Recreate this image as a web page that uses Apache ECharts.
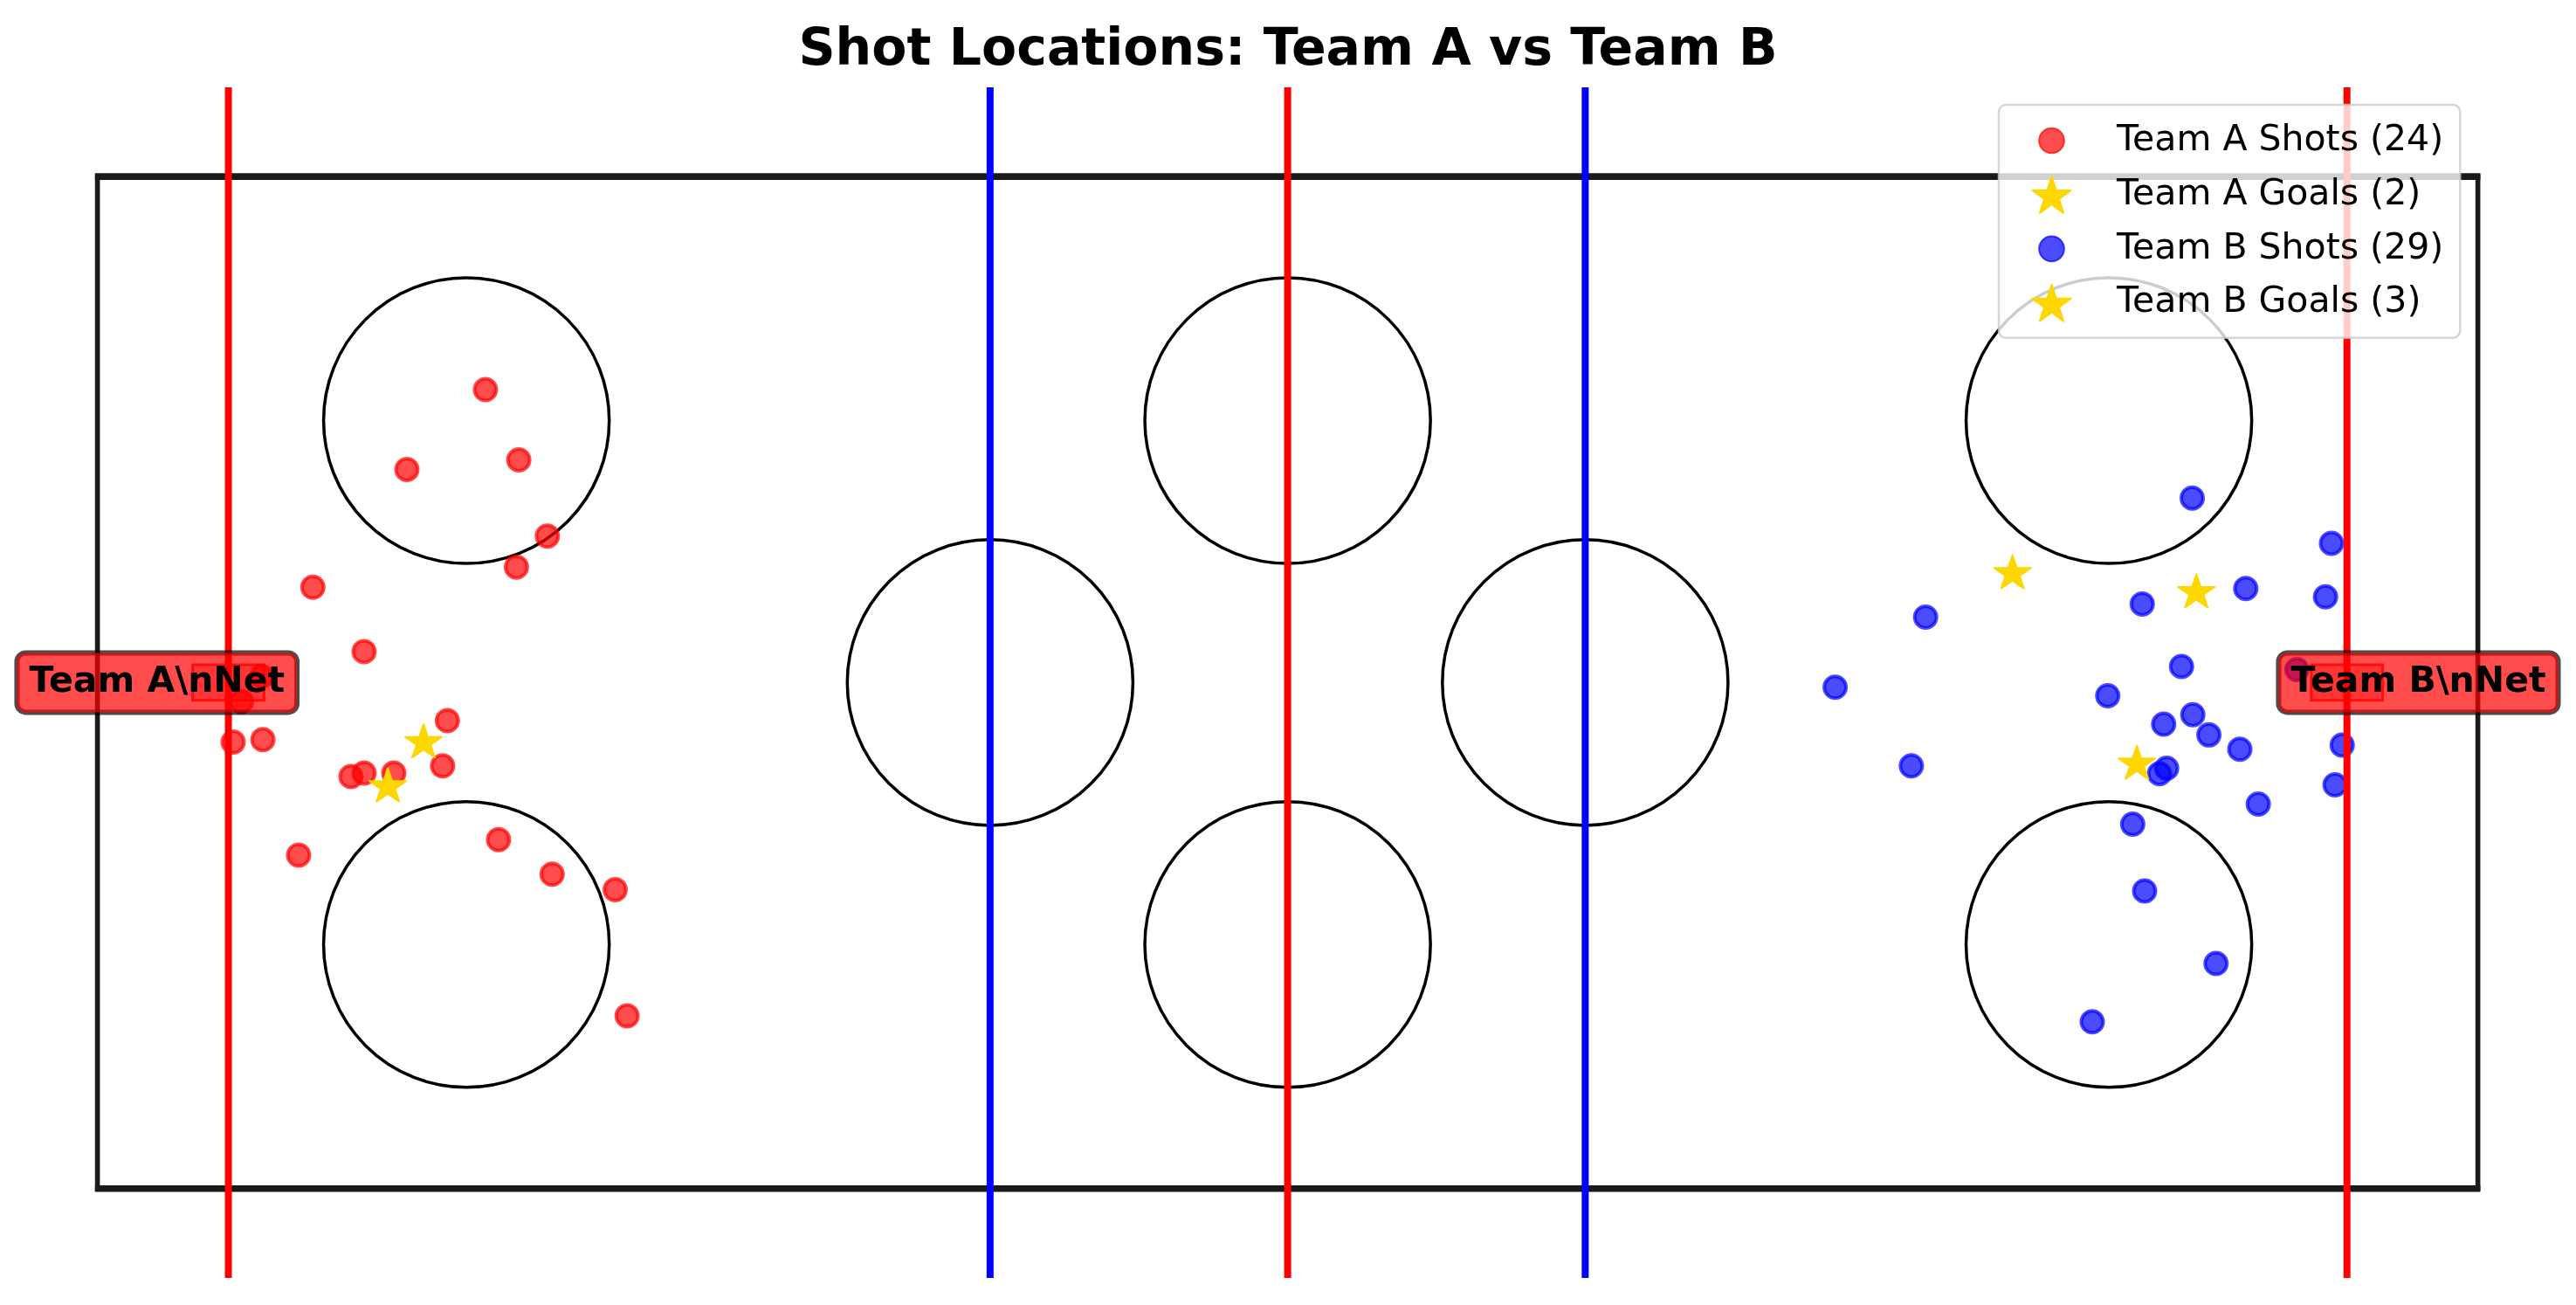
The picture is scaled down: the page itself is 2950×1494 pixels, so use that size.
<!DOCTYPE html>
<html><head><meta charset="utf-8">
<script src="https://cdn.jsdelivr.net/npm/echarts@6/dist/echarts.min.js"></script>
<style>html,body{margin:0;padding:0;background:#fff}#c{width:2950px;height:1494px}</style>
</head><body><div id="c"></div>
<script>
// ---- data (rink units: 200 x 85) ----
const teamAShots = [[32.6,67.1],[26.0,60.4],[35.4,61.2],[37.8,54.8],[35.2,52.2],[18.1,50.5],[22.4,45.1],[13.8,43.0],[12.1,40.9],[11.4,37.5],[13.9,37.7],[29.4,39.3],[29.0,35.5],[21.3,34.6],[22.4,34.9],[24.9,34.9],[16.9,28.0],[33.7,29.3],[38.2,26.4],[43.5,25.1],[44.5,14.5]];
const teamAGoals = [[27.4,37.6],[24.4,33.9]];
const teamBShots = [[176.0,58.0],[187.7,54.2],[180.5,50.4],[187.2,49.7],[171.8,49.1],[153.6,48.0],[146.0,42.1],[175.1,43.85],[184.8,43.6],[168.9,41.4],[176.05,39.8],[173.6,39.0],[177.4,38.1],[180.0,36.9],[188.6,37.25],[173.85,35.3],[173.25,34.85],[152.4,35.5],[188.0,33.9],[181.55,32.3],[171.0,30.6],[172.0,25.0],[178.0,18.9],[167.6,14.0]];
const teamBGoals = [[160.9,51.8],[176.35,50.2],[171.35,35.8]];
const rink = [[0, 0, 200, 85]];
const redLines = [11, 100, 189];
const blueLines = [75, 125];
const circleCenters = [[31,64.5],[31,20.5],[100,64.5],[100,20.5],[169,64.5],[169,20.5],[75,42.5],[125,42.5]];
const circleRadius = 12;
const netRects = [[8,41,14,44],[186,41,192,44]];
const netLabelPos = [[5,42.5],[195,42.5]];
const netLabelTexts = ['Team A\\nNet','Team B\\nNet'];
const legendNames = ['Team A Shots (24)','Team A Goals (2)','Team B Shots (29)','Team B Goals (3)'];
const titleText = 'Shot Locations: Team A vs Team B';
const xRange = [-8, 208];
const yRange = [-7.5, 92.5];

const FONT = "'DejaVu Sans', sans-serif";
const STAR = 'path://M100,0 L122.45,69.1 L195.11,69.1 L136.33,111.8 L158.78,180.9 L100,138.2 L41.22,180.9 L63.67,111.8 L4.89,69.1 L77.55,69.1 Z';
const LEGEND_CIRCLE = 'path://M0,0 M44,42 M36.35,21 A14.35,14.35,0,1,1,7.65,21 A14.35,14.35,0,1,1,36.35,21 Z';

const chart = echarts.init(document.getElementById('c'));

function vLineSeries(xs, color) {
  return {
    type: 'custom', z: 5, silent: true,
    data: xs.map(x => [x]),
    renderItem: (params, api) => {
      const a = api.coord([api.value(0), yRange[0]]);
      const b = api.coord([api.value(0), yRange[1]]);
      return {type: 'line', shape: {x1: a[0], y1: a[1], x2: b[0], y2: b[1]},
              style: {stroke: color, lineWidth: 8}};
    }
  };
}

const shotStyle = c => ({color: c, borderColor: c, borderWidth: 4, opacity: 1});
const starStyle = {color: '#FFD700', borderColor: '#FFD700', borderWidth: 2, borderJoin: 'round', opacity: 1};

chart.setOption({
  animation: false,
  backgroundColor: '#ffffff',
  title: {
    text: titleText, left: 'center', top: 25,
    textStyle: {fontFamily: FONT, fontSize: 58.5, fontWeight: 'bold', color: '#000', lineHeight: 58}
  },
  grid: {left: 2.56, top: 99.9, width: 2944.1, height: 1363},
  xAxis: {type: 'value', min: xRange[0], max: xRange[1], show: false},
  yAxis: {type: 'value', min: yRange[0], max: yRange[1], show: false},
  legend: {
    orient: 'vertical', left: 2289, top: 120, z: 20,
    itemWidth: 44, itemHeight: 42, itemGap: 18,
    padding: [19, 19, 18, 37.5],
    backgroundColor: 'rgba(255,255,255,0.8)', borderColor: 'rgba(204,204,204,0.8)',
    borderWidth: 2.5, borderRadius: 8, selectedMode: false,
    textStyle: {fontFamily: FONT, fontSize: 41, color: '#000', lineHeight: 42, padding: [0, 0, 0, 47.5]},
    data: [
      {name: legendNames[0], icon: LEGEND_CIRCLE},
      {name: legendNames[1], icon: STAR},
      {name: legendNames[2], icon: LEGEND_CIRCLE},
      {name: legendNames[3], icon: STAR}
    ]
  },
  series: [
    {
      type: 'custom', z: 1, silent: true, data: rink,
      renderItem: (params, api) => {
        const p0 = api.coord([api.value(0), api.value(3)]);
        const p1 = api.coord([api.value(2), api.value(1)]);
        return {type: 'group', children: [
          {type: 'rect', shape: {x: p0[0], y: p0[1], width: p1[0] - p0[0], height: p1[1] - p0[1]},
           style: {fill: 'none', stroke: '#1a1a1a', lineWidth: 5.6}},
          {type: 'line', shape: {x1: p0[0] - 2.8, y1: p0[1], x2: p1[0] + 2.8, y2: p0[1]},
           style: {stroke: '#1a1a1a', lineWidth: 7.6}},
          {type: 'line', shape: {x1: p0[0] - 2.8, y1: p1[1], x2: p1[0] + 2.8, y2: p1[1]},
           style: {stroke: '#1a1a1a', lineWidth: 7.6}}
        ]};
      }
    },
    {
      type: 'custom', z: 1, silent: true, data: circleCenters,
      renderItem: (params, api) => {
        const c = api.coord([api.value(0), api.value(1)]);
        const r = api.size([circleRadius, 0])[0];
        return {type: 'circle', shape: {cx: c[0], cy: c[1], r: r},
                style: {fill: 'none', stroke: '#000', lineWidth: 3.5}};
      }
    },
    {name: legendNames[0], type: 'scatter', z: 3, data: teamAShots, symbol: 'circle', symbolSize: 25,
     itemStyle: shotStyle('rgba(255,0,0,0.7)')},
    {name: legendNames[1], type: 'scatter', z: 4, data: teamAGoals, symbol: STAR, symbolSize: [42, 40],
     symbolKeepAspect: true, itemStyle: starStyle},
    {name: legendNames[2], type: 'scatter', z: 3, data: teamBShots, symbol: 'circle', symbolSize: 25,
     itemStyle: shotStyle('rgba(0,0,255,0.7)')},
    {name: legendNames[3], type: 'scatter', z: 4, data: teamBGoals, symbol: STAR, symbolSize: [42, 40],
     symbolKeepAspect: true, itemStyle: starStyle},
    vLineSeries(redLines, '#ff0000'),
    vLineSeries(blueLines, '#0000ff'),
    {
      type: 'custom', z: 5, silent: true, data: netRects,
      renderItem: (params, api) => {
        const p0 = api.coord([api.value(0), api.value(3)]);
        const p1 = api.coord([api.value(2), api.value(1)]);
        return {type: 'rect', shape: {x: p0[0], y: p0[1], width: p1[0] - p0[0], height: p1[1] - p0[1]},
                style: {fill: 'rgba(255,0,0,0.3)', stroke: 'rgba(255,0,0,0.8)', lineWidth: 3}};
      }
    },
    {
      type: 'scatter', z: 6, silent: true, data: netLabelPos, symbol: 'circle', symbolSize: 1,
      itemStyle: {color: 'rgba(0,0,0,0)', opacity: 1},
      label: {
        show: true, position: 'inside', opacity: 1,
        formatter: p => netLabelTexts[p.dataIndex],
        fontFamily: FONT, fontSize: 41, fontWeight: 'bold', color: '#000', lineHeight: 48,
        backgroundColor: 'rgba(255,0,0,0.7)', borderColor: 'rgba(0,0,0,0.7)', borderWidth: 3,
        borderRadius: 10, padding: [10, 14]
      }
    }
  ]
});
</script>
</body></html>
